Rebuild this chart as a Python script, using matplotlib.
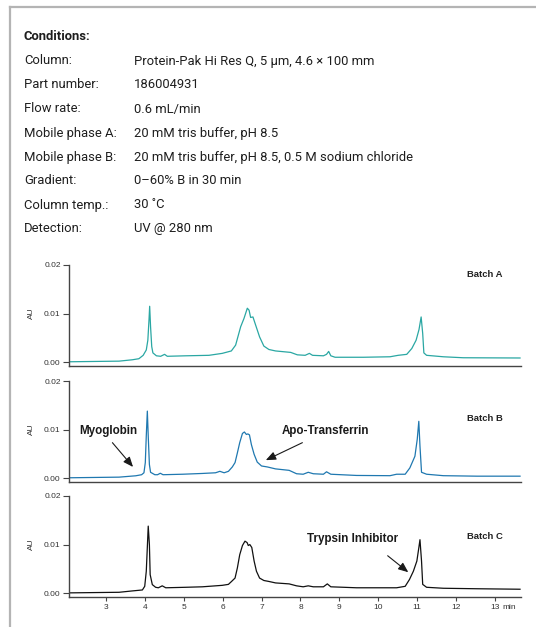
import matplotlib
matplotlib.use("Agg")
import matplotlib.pyplot as plt
from matplotlib.lines import Line2D
from matplotlib import font_manager

plt.rcParams['font.family'] = ['Liberation Sans', 'DejaVu Sans']

# conditions table
cond_labels = ["Column:", "Part number:", "Flow rate:", "Mobile phase A:", "Mobile phase B:",
               "Gradient:", "Column temp.:", "Detection:"]
cond_values = ["Protein-Pak Hi Res Q, 5 µm, 4.6 × 100 mm", "186004931", "0.6 mL/min",
               "20 mM tris buffer, pH 8.5", "20 mM tris buffer, pH 8.5, 0.5 M sodium chloride",
               "0–60% B in 30 min", "30 ˚C", "UV @ 280 nm"]

# chromatograms (min, AU)
time_a = [2.055, 3.34, 3.68, 3.85, 3.96, 4.04, 4.08, 4.11, 4.127, 4.15, 4.18, 4.21, 4.30, 4.41,
          4.51, 4.58, 5.05, 5.65, 5.99, 6.225, 6.335, 6.465, 6.55, 6.635, 6.68, 6.72, 6.78, 6.85,
          6.95, 7.06, 7.19, 7.36, 7.75, 7.92, 8.12, 8.23, 8.31, 8.59, 8.67, 8.725, 8.78, 8.89,
          9.62, 10.30, 10.51, 10.73, 10.86, 10.97, 11.045, 11.10, 11.14, 11.17, 11.24, 11.67,
          12.18, 13.64]
au_a = [0.00007, 0.0002, 0.00048, 0.0007, 0.0014, 0.0025, 0.0045, 0.0087, 0.0115, 0.0073, 0.0032,
        0.0019, 0.0013, 0.0012, 0.0016, 0.0012, 0.0013, 0.0014, 0.0018, 0.0023, 0.0035, 0.0073,
        0.0090, 0.0111, 0.0107, 0.0092, 0.0093, 0.0076, 0.0052, 0.0033, 0.0026, 0.0023, 0.0020,
        0.0015, 0.0014, 0.0018, 0.0014, 0.0013, 0.0016, 0.0022, 0.0013, 0.0010, 0.0010, 0.0011,
        0.0014, 0.0016, 0.0028, 0.0045, 0.0067, 0.0093, 0.0059, 0.0019, 0.0014, 0.0011, 0.0009,
        0.00085]

time_b = [2.055, 3.34, 3.77, 3.92, 3.98, 4.015, 4.04, 4.067, 4.09, 4.12, 4.15, 4.26, 4.33, 4.40,
          4.47, 4.97, 5.48, 5.82, 5.93, 6.04, 6.15, 6.25, 6.32, 6.38, 6.44, 6.51, 6.56, 6.61, 6.65,
          6.69, 6.74, 6.81, 6.89, 7.00, 7.15, 7.36, 7.71, 7.90, 8.07, 8.20, 8.33, 8.59, 8.67, 8.78,
          9.44, 10.30, 10.47, 10.69, 10.81, 10.94, 11.00, 11.04, 11.07, 11.11, 11.24, 11.67, 12.53,
          13.64]
au_b = [0.00007, 0.0002, 0.00048, 0.0007, 0.0011, 0.0032, 0.0087, 0.0138, 0.0087, 0.0028, 0.0012,
        0.0007, 0.0007, 0.0010, 0.0007, 0.0008, 0.00096, 0.0011, 0.0014, 0.0011, 0.0014, 0.0023,
        0.0032, 0.0052, 0.0073, 0.0092, 0.0095, 0.0090, 0.0091, 0.0089, 0.0069, 0.0049, 0.0033,
        0.0025, 0.0023, 0.0019, 0.0016, 0.0009, 0.0008, 0.0012, 0.0009, 0.0008, 0.0013, 0.0008,
        0.00055, 0.0005, 0.0008, 0.0008, 0.0021, 0.0045, 0.0080, 0.0117, 0.0066, 0.0012, 0.0008,
        0.0005, 0.0004, 0.0004]

time_c = [2.055, 3.34, 3.68, 3.94, 4.00, 4.04, 4.07, 4.09, 4.12, 4.14, 4.195, 4.28, 4.35, 4.45,
          4.54, 5.05, 5.48, 5.99, 6.15, 6.23, 6.32, 6.38, 6.44, 6.51, 6.575, 6.63, 6.66, 6.70, 6.75,
          6.81, 6.87, 6.95, 7.06, 7.19, 7.36, 7.71, 7.90, 8.07, 8.20, 8.33, 8.59, 8.69, 8.78, 9.44,
          10.47, 10.69, 10.80, 10.90, 10.99, 11.04, 11.07, 11.11, 11.14, 11.24, 11.67, 12.53, 13.64]
au_c = [0.00005, 0.00017, 0.00045, 0.00065, 0.0014, 0.0045, 0.0100, 0.0138, 0.0100, 0.0038,
        0.00175, 0.0012, 0.0011, 0.0015, 0.0011, 0.0012, 0.0013, 0.0016, 0.0018, 0.0024, 0.0031,
        0.0052, 0.0079, 0.0098, 0.0107, 0.0104, 0.0098, 0.0100, 0.0094, 0.0066, 0.0045, 0.0031,
        0.0026, 0.0024, 0.0021, 0.0019, 0.0015, 0.0013, 0.0015, 0.0013, 0.0013, 0.0019, 0.0013,
        0.0011, 0.0011, 0.0014, 0.0028, 0.0045, 0.0066, 0.0093, 0.0110, 0.0066, 0.0018, 0.0012,
        0.0010, 0.0009, 0.0008]

batches = ["Batch A", "Batch B", "Batch C"]

W, H = 536, 627


def fx(px):
    return px / W


def fy(py):
    return 1 - py / H


fig = plt.figure(figsize=(W / 100, H / 100), dpi=100)

# grey frame on the left and top
fig.add_artist(Line2D([fx(10), fx(10)], [fy(7), 0], color='#b4b4b4', lw=1.6))
fig.add_artist(Line2D([fx(10), 1], [fy(7), fy(7)], color='#b4b4b4', lw=1.6))

# header font: a narrow face if there is one
installed = {f.name for f in font_manager.fontManager.ttflist}
if 'Liberation Sans Narrow' in installed:
    head = dict(fontsize=11, family=['Liberation Sans Narrow', 'DejaVu Sans'])
else:
    head = dict(fontsize=9.35, family=['Roboto', 'DejaVu Sans'])
head.update(color='#1e1e1e', va='center')

fig.text(fx(24), fy(36), "Conditions:", fontweight='bold', **head)
for i in range(len(cond_labels)):
    y = 61 + i * 24
    fig.text(fx(24), fy(y), cond_labels[i], **head)
    fig.text(fx(134), fy(y), cond_values[i], **head)

traces = [(time_a, au_a, '#2aa7a3', 0.0181), (time_b, au_b, '#1f78b0', 0.0122),
          (time_c, au_c, '#111111', 0.0116)]
bottoms = [366, 482, 597]

axes = []
for i, (t, v, col, ylab) in enumerate(traces):
    ax = fig.add_axes([fx(69), fy(bottoms[i]), 452 / W, 101 / H])
    ax.patch.set_alpha(0)
    ax.plot(t, v, color=col, lw=0.9)
    ax.set_xlim(2.055, 13.665)
    ax.set_ylim(-0.0008, 0.02)
    ax.spines[['top', 'right']].set_visible(False)
    for s in ['left', 'bottom']:
        ax.spines[s].set_color('#444444')
        ax.spines[s].set_linewidth(1.0)
    ax.set_yticks([0, 0.01, 0.02])
    ax.set_yticklabels(['0.00', '0.01', '0.02'])
    ax.tick_params(axis='y', length=4, width=0.8, color='#444444', labelsize=6,
                   labelcolor='#333333', pad=2)
    ax.text(-0.082, 0.01, "AU", transform=ax.get_yaxis_transform(), rotation=90,
            fontsize=6, color='#333333', ha='center', va='center')
    ax.text(12.74, ylab, batches[i], fontsize=6.8, fontweight='bold', color='#222222',
            ha='center', va='center')
    if i < 2:
        ax.set_xticks([])
    else:
        ax.set_xticks(range(3, 14))
        ax.set_xticklabels([str(k) for k in range(3, 14)])
        ax.tick_params(axis='x', length=3, width=0.8, color='#444444', labelsize=6,
                       labelcolor='#333333', pad=2)
        ax.annotate("min", xy=(13, 0), xycoords=('data', 'axes fraction'),
                    xytext=(5, -5), textcoords='offset points', fontsize=6,
                    color='#333333', ha='left', va='top')
    axes.append(ax)

arrow = dict(arrowstyle='-|>,head_length=0.6,head_width=0.25', color='#1a1a1a', lw=0.8,
             shrinkA=0, shrinkB=0, mutation_scale=10)
note = dict(fontsize=8.4, fontweight='bold', color='#1a1a1a', ha='center', va='center')

axes[1].text(3.065, 0.0098, "Myoglobin", **note)
axes[1].annotate("", xy=(3.70, 0.0023), xytext=(3.17, 0.0073), arrowprops=arrow)
axes[1].text(8.65, 0.0098, "Apo-Transferrin", **note)
axes[1].annotate("", xy=(7.11, 0.0037), xytext=(8.05, 0.0073), arrowprops=arrow)
axes[2].text(9.33, 0.0112, "Trypsin Inhibitor", **note)
axes[2].annotate("", xy=(10.77, 0.0043), xytext=(10.24, 0.0077), arrowprops=arrow)

fig.savefig("out.png", dpi=100)
